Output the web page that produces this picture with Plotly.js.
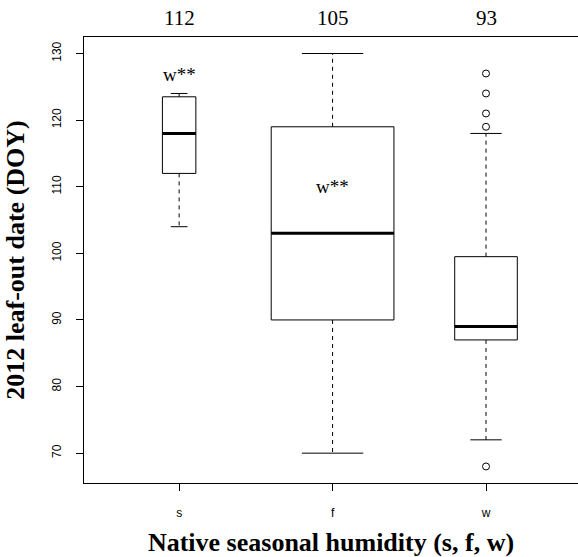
<!DOCTYPE html>
<html>
<head>
<meta charset="utf-8">
<script src="https://cdn.plot.ly/plotly-3.0.1.min.js"></script>
<style>
  html, body { margin: 0; padding: 0; background: #fff; overflow: hidden; }
  #chart { width: 578px; height: 557px; }
</style>
</head>
<body>
<div id="chart"></div>
<script>
// ---- data ----
const groups = ['s', 'f', 'w'];
const positions = [1, 2, 3];
const lowerWhisker = [104, 70, 72];
const q1 = [112, 90, 87];
const median = [118, 103, 89];
const q3 = [123.5, 119, 99.5];
const upperWhisker = [124, 130, 118];
const outlierGroup = ['w', 'w', 'w', 'w', 'w'];
const outlierValue = [127, 124, 121, 119, 68];
const topLabels = ['112', '105', '93'];
const sigLabels = ['w**', 'w**'];
const sigGroup = ['s', 'f'];
const sigY = [126.8, 110];
const yTicks = [70, 80, 90, 100, 110, 120, 130];

// ---- style ----
const boxWidth = [0.218, 0.8, 0.408];   // varwidth-like relative widths (x units)
const capFrac = 0.5;
const serif = 'Liberation Serif, Times New Roman, serif';
const sans = 'Liberation Sans, Arial, sans-serif';

const traces = [];
groups.forEach((g, i) => {
  const p = positions[i];
  const hw = boxWidth[i] / 2;
  const cw = boxWidth[i] * capFrac / 2;
  // whiskers (dashed)
  traces.push({
    type: 'scatter', mode: 'lines', hoverinfo: 'skip', showlegend: false,
    x: [p, p, null, p, p],
    y: [q3[i], upperWhisker[i], null, q1[i], lowerWhisker[i]],
    line: { color: '#000', width: 1, dash: '4px,4px' }
  });
  // staples
  traces.push({
    type: 'scatter', mode: 'lines', hoverinfo: 'skip', showlegend: false,
    x: [p - cw, p + cw, null, p - cw, p + cw],
    y: [upperWhisker[i], upperWhisker[i], null, lowerWhisker[i], lowerWhisker[i]],
    line: { color: '#000', width: 1 }
  });
  // box
  traces.push({
    type: 'scatter', mode: 'lines', hoverinfo: 'skip', showlegend: false,
    x: [p - hw, p + hw, p + hw, p - hw, p - hw],
    y: [q1[i], q1[i], q3[i], q3[i], q1[i]],
    line: { color: '#000', width: 1 }
  });
  // median
  traces.push({
    type: 'scatter', mode: 'lines', hoverinfo: 'skip', showlegend: false,
    x: [p - hw, p + hw],
    y: [median[i], median[i]],
    line: { color: '#000', width: 3 }
  });
});
// outliers
traces.push({
  type: 'scatter', mode: 'markers', hoverinfo: 'skip', showlegend: false,
  x: outlierGroup.map(g => positions[groups.indexOf(g)]),
  y: outlierValue,
  marker: { symbol: 'circle-open', size: 7, color: '#000', line: { width: 1, color: '#000' } }
});

const annotations = [];
topLabels.forEach((t, i) => {
  annotations.push({
    x: positions[i], xref: 'x', y: 1.0426, yref: 'paper',
    text: t, showarrow: false, xanchor: 'center', yanchor: 'middle',
    font: { family: serif, size: 21, color: '#000' }
  });
});
sigLabels.forEach((t, i) => {
  annotations.push({
    x: positions[groups.indexOf(sigGroup[i])], xref: 'x', y: sigY[i], yref: 'y',
    text: t, showarrow: false, xanchor: 'center', yanchor: 'middle',
    font: { family: serif, size: 19, color: '#000' }
  });
});

const layout = {
  width: 578, height: 557,
  margin: { l: 84, r: 0, t: 37, b: 74 },
  paper_bgcolor: '#fff', plot_bgcolor: '#fff',
  showlegend: false,
  xaxis: {
    range: [0.38, 3.5995],
    tickvals: positions, ticktext: groups,
    ticks: 'outside', ticklen: 7, tickwidth: 1, tickcolor: '#000',
    ticklabelstandoff: 12,
    tickfont: { family: sans, size: 12, color: '#000' },
    showgrid: false, zeroline: false,
    showline: true, mirror: true, linecolor: '#000', linewidth: 1,
    title: { text: '<b>Native seasonal humidity (s, f, w)</b>', standoff: 15,
             font: { family: serif, size: 26, color: '#000' } }
  },
  yaxis: {
    range: [65.52, 132.48],
    tickvals: yTicks,
    ticks: 'outside', ticklen: 7, tickwidth: 1, tickcolor: '#000',
    tickangle: -90,
    ticklabelstandoff: 10,
    tickfont: { family: sans, size: 12, color: '#000' },
    showgrid: false, zeroline: false,
    showline: true, mirror: false, linecolor: '#000', linewidth: 1,
    title: { text: '<b>2012 leaf-out date (DOY)</b>', standoff: 18,
             font: { family: serif, size: 26, color: '#000' } }
  },
  annotations: annotations
};

Plotly.newPlot('chart', traces, layout, { displayModeBar: false, staticPlot: true });
</script>
</body>
</html>
